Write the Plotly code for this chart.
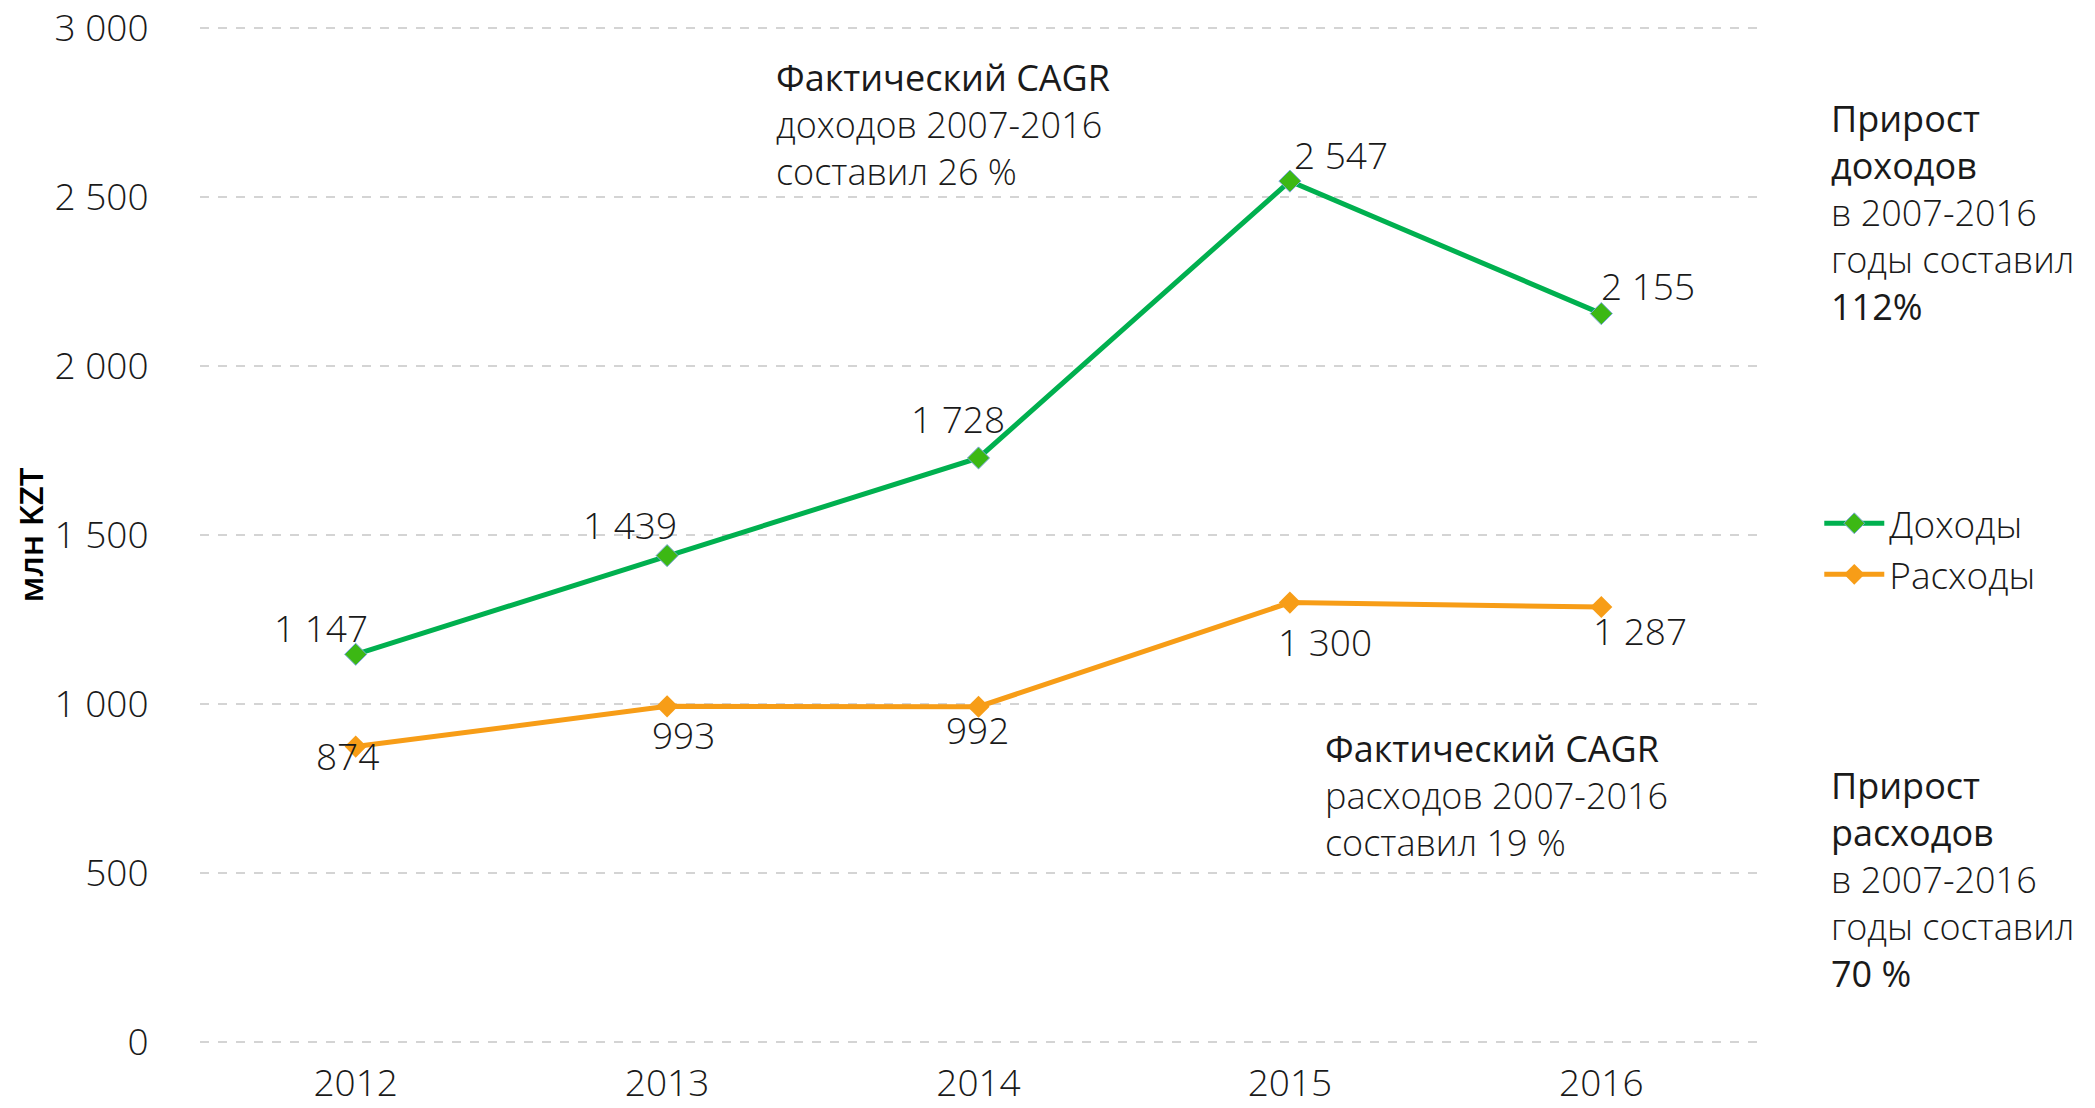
import plotly.graph_objects as go

years = ['2012', '2013', '2014', '2015', '2016']
income = [1147, 1439, 1728, 2547, 2155]
expenses = [874, 993, 992, 1300, 1287]
y_ticks = [0, 500, 1000, 1500, 2000, 2500, 3000]

# label offsets (px) from each point
income_shift = [(-35, 27), (-37, 31), (-21, 39), (51, 27), (47, 28)]
expenses_shift = [(-8, -9), (16, -28), (-1, -23), (35, -39), (39, -24)]


def fmt(v):
    # thousands separated by a space
    return f'{v:,}'.replace(',', ' ')


FONT = 'Open Sans'
SIZE = 37
NOTE_SIZE = 36
LINE_H = 47
GREEN = '#00b04f'
ORANGE = '#f79d17'
TXT = '#1a1a1a'

fig = go.Figure()

fig.add_trace(go.Scatter(
    x=years, y=income, name='Доходы',
    mode='lines+markers',
    line=dict(color=GREEN, width=5),
    marker=dict(symbol='diamond', size=17, color='#3cb814',
                line=dict(color='#7aa7e0', width=1)),
))

fig.add_trace(go.Scatter(
    x=years, y=expenses, name='Расходы',
    mode='lines+markers',
    line=dict(color=ORANGE, width=5),
    marker=dict(symbol='diamond', size=17, color=ORANGE),
))

# value labels, positioned on the category index of each point
for vals, shifts in [(income, income_shift), (expenses, expenses_shift)]:
    for i, (v, (dx, dy)) in enumerate(zip(vals, shifts)):
        fig.add_annotation(x=i, y=v, text=fmt(v), showarrow=False,
                           xshift=dx, yshift=dy,
                           font=dict(size=SIZE, color=TXT, family=FONT, weight=300))


def text_block(x, y, lines):
    # one annotation per line to keep the tighter line spacing
    for n, (t, w) in enumerate(lines):
        fig.add_annotation(x=x, y=y, xref='paper', yref='paper', text=t,
                           showarrow=False, xanchor='left', yanchor='middle',
                           yshift=-n * LINE_H, borderpad=0,
                           font=dict(size=NOTE_SIZE, color=TXT, family=FONT, weight=w))


text_block(0.369, 0.950, [('Фактический CAGR', 500), ('доходов 2007-2016', 300),
                          ('составил 26 %', 300)])
text_block(0.722, 0.290, [('Фактический CAGR', 500), ('расходов 2007-2016', 300),
                          ('составил 19 %', 300)])
text_block(1.047, 0.910, [('Прирост', 500), ('доходов', 500), ('в 2007-2016', 300),
                          ('годы составил', 300), ('112%', 500)])
text_block(1.047, 0.253, [('Прирост', 500), ('расходов', 500), ('в 2007-2016', 300),
                          ('годы составил', 300), ('70 %', 500)])

fig.update_layout(
    width=2095, height=1108,
    margin=dict(l=192, r=346, t=19, b=73),
    plot_bgcolor='white', paper_bgcolor='white',
    font=dict(family=FONT, size=SIZE, color=TXT, weight=300),
    showlegend=True,
    legend=dict(x=1.04, y=0.486, xanchor='left', yanchor='middle',
                font=dict(size=SIZE, color=TXT, family=FONT, weight=300),
                itemwidth=60, tracegroupgap=12),
    xaxis=dict(type='category', range=[-0.5, 4.5], showgrid=False,
               showline=False, zeroline=False, ticks='outside', ticklen=8,
               tickcolor='rgba(0,0,0,0)', automargin=False,
               ticklabeloverflow='allow',
               tickfont=dict(size=SIZE, color=TXT)),
    yaxis=dict(range=[-3, 3003], tickvals=y_ticks,
               ticktext=[fmt(v) for v in y_ticks],
               showgrid=True, gridcolor='#d4d4d4', griddash='dash', gridwidth=1.5,
               zeroline=False, showline=False, ticks='outside', ticklen=43,
               tickcolor='rgba(0,0,0,0)', automargin=False,
               ticklabeloverflow='allow',
               tickfont=dict(size=SIZE, color=TXT),
               title=dict(text='млн KZT', standoff=18,
                          font=dict(size=33, color='#000', family=FONT, weight=600))),
)

fig.write_html('out.html')
